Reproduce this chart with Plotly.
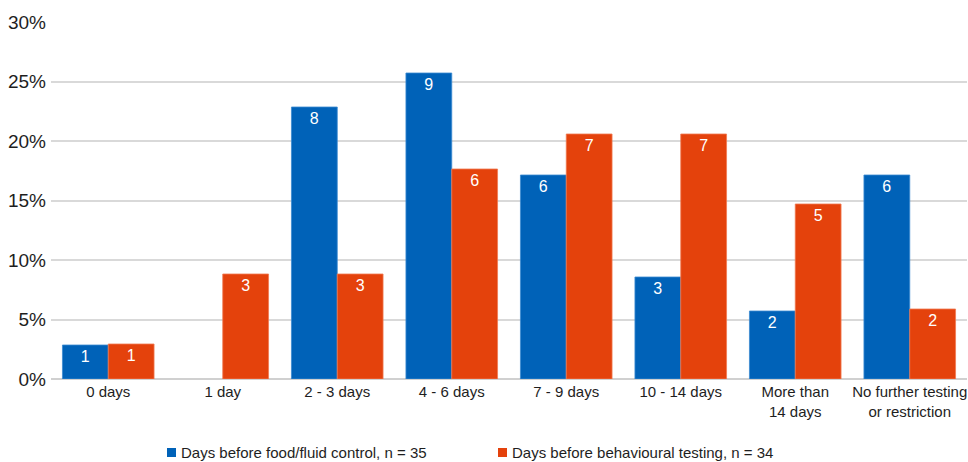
import plotly.graph_objects as go

categories = ["0 days", "1 day", "2 - 3 days", "4 - 6 days", "7 - 9 days",
              "10 - 14 days", "More than<br>14 days", "No further testing<br>or restriction"]
food_counts = [1, 0, 8, 9, 6, 3, 2, 6]
behav_counts = [1, 3, 3, 6, 7, 7, 5, 2]
food_n = 35
behav_n = 34
y_ticks = [0, 5, 10, 15, 20, 25, 30]

food_pct = [c / food_n * 100 for c in food_counts]
behav_pct = [c / behav_n * 100 for c in behav_counts]

BLUE = "#0062B8"
ORANGE = "#E4420C"

W, H = 968, 462
M_L, M_R, M_T, M_B = 51, 1, 22, 83
PLOT_W = W - M_L - M_R
PLOT_H = H - M_T - M_B


def px_to_paper_x(px):
    return (px - M_L) / PLOT_W


def px_to_paper_y(py):
    return (H - M_B - py) / PLOT_H


def labels(counts):
    return [str(c) if c > 0 else "" for c in counts]


def edge_widths(counts):
    return [0.8 if c > 0 else 0 for c in counts]


series = [
    (f"Days before food/fluid control, n = {food_n}", food_pct, food_counts, BLUE, "#3a8ad0"),
    (f"Days before behavioural testing, n = {behav_n}", behav_pct, behav_counts, ORANGE, "#f07a50"),
]

fig = go.Figure()
for name, pct, counts, color, edge in series:
    fig.add_trace(go.Bar(
        x=categories, y=pct, name=name,
        marker=dict(color=color, line=dict(color=edge, width=edge_widths(counts))),
        text=labels(counts), textposition="inside", insidetextanchor="end",
        textangle=0, textfont=dict(color="white", size=16, family="Liberation Sans"),
        showlegend=False,
    ))

# legend drawn below the plot: small square swatch + label per series
legend_x = [167, 498]
legend_y = 452.5
for (name, _, _, color, _), lx in zip(series, legend_x):
    fig.add_shape(
        type="rect", xref="paper", yref="paper",
        x0=px_to_paper_x(lx), x1=px_to_paper_x(lx + 9),
        y0=px_to_paper_y(legend_y + 4.5), y1=px_to_paper_y(legend_y - 4.5),
        fillcolor=color, line=dict(width=0),
    )
    fig.add_annotation(
        x=px_to_paper_x(lx + 11.5), y=px_to_paper_y(legend_y),
        xref="paper", yref="paper", xanchor="left", yanchor="middle",
        text=name, showarrow=False, font=dict(size=15, color="#1e1e1e"),
    )

fig.update_layout(
    width=W, height=H,
    margin=dict(l=M_L, r=M_R, t=M_T, b=M_B),
    paper_bgcolor="white", plot_bgcolor="white",
    barmode="group", bargap=0.2, bargroupgap=0,
    font=dict(family="Liberation Sans, Arial, sans-serif", color="#1e1e1e"),
    uniformtext=dict(mode="show", minsize=16),
)
fig.update_xaxes(
    showgrid=False, showline=False, ticks="", tickfont=dict(size=15, color="#1e1e1e"),
    ticklabelstandoff=2, automargin=False,
)
fig.update_yaxes(
    range=[0, 30], tickvals=y_ticks, ticktext=[f"{v}%" for v in y_ticks],
    showgrid=True, gridcolor="#d9d9d9", gridwidth=2,
    zeroline=True, zerolinecolor="#d0d0d0", zerolinewidth=2,
    tickfont=dict(size=19, color="#1e1e1e"), ticklabelstandoff=4, automargin=False,
)

fig.write_html("out.html")
